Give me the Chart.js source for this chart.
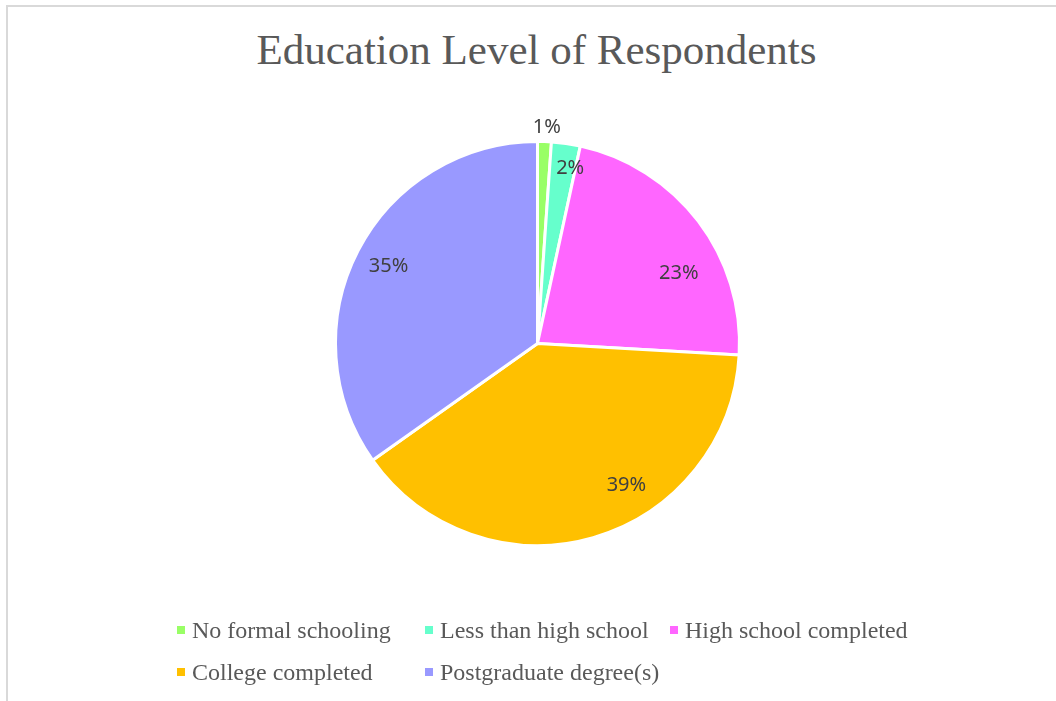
<!DOCTYPE html>
<html>
<head>
<meta charset="utf-8">
<script src="https://cdn.jsdelivr.net/npm/chart.js@4"></script>
<style>
  html, body { margin: 0; padding: 0; background: #fff; }
  #wrap { position: relative; width: 1056px; height: 701px; overflow: hidden; }
  #frame { position: absolute; left: 6px; top: 5px; width: 1100px; height: 800px;
           border-left: 2px solid #d9d9d9; border-top: 2px solid #d9d9d9; }
  #title { position: absolute; left: 0; width: 1073px; top: 25px; text-align: center;
           font-family: "Liberation Serif", "DejaVu Serif", serif; font-size: 43px; color: #595959; }
  #legend { position: absolute; left: 177px; top: 616px; font-family: "Liberation Serif", serif;
            font-size: 24px; color: #595959; display: grid;
            grid-template-columns: 248px 245px auto; row-gap: 14px; }
  .item { display: flex; align-items: center; white-space: nowrap; height: 28px; }
  .box { width: 8px; height: 8px; margin-right: 7px; }
  canvas { position: absolute; left: 0; top: 0; }
</style>
</head>
<body>
<div id="wrap">
  <div id="frame"></div>
  <div id="title">Education Level of Respondents</div>
  <canvas id="pie" width="1056" height="701"></canvas>
  <div id="legend"></div>
</div>
<script>
// ==========================================
// 1. DATA
// ==========================================
const categories = [
  'No formal schooling',
  'Less than high school',
  'High school completed',
  'College completed',
  'Postgraduate degree(s)'
];
const shares = [1.1, 2.3, 22.5, 39.3, 34.8];
const shareLabels = ['1%', '2%', '23%', '39%', '35%'];

const sliceColors = ['#99ff66', '#66ffcc', '#ff66ff', '#ffc000', '#9999ff'];

// label placement (fraction of radius, angle shift in degrees from slice middle)
const labelPlacement = [
  { r: 1.07, shift: 0.5 },
  { r: 0.88, shift: 2.5 },
  { r: 0.78, shift: 11 },
  { r: 0.83, shift: -16 },
  { r: 0.83, shift: 0 }
];

// ==========================================
// 2. SLICE LABELS (drawn on top of arcs)
// ==========================================
const sliceLabelPlugin = {
  id: 'sliceLabels',
  afterDatasetsDraw(chart) {
    const ctx = chart.ctx;
    const arcs = chart.getDatasetMeta(0).data;
    ctx.save();
    ctx.font = '20px "Noto Sans", "Open Sans", sans-serif';
    ctx.fillStyle = '#404040';
    ctx.textAlign = 'center';
    ctx.textBaseline = 'middle';
    arcs.forEach((arc, i) => {
      const p = labelPlacement[i];
      const mid = (arc.startAngle + arc.endAngle) / 2 + p.shift * Math.PI / 180;
      const r = arc.outerRadius * p.r;
      ctx.fillText(shareLabels[i], arc.x + Math.cos(mid) * r, arc.y + Math.sin(mid) * r);
    });
    ctx.restore();
  }
};

// ==========================================
// 3. CHART
// ==========================================
new Chart(document.getElementById('pie'), {
  type: 'pie',
  data: {
    labels: categories,
    datasets: [{
      data: shares,
      backgroundColor: sliceColors,
      borderColor: '#ffffff',
      borderWidth: 3
    }]
  },
  options: {
    responsive: false,
    animation: false,
    layout: { padding: { left: 334, right: 315, top: 140, bottom: 154 } },
    plugins: {
      legend: { display: false },
      tooltip: { enabled: false }
    }
  },
  plugins: [sliceLabelPlugin]
});

// HTML legend, laid out in Excel-like columns
const legendEl = document.getElementById('legend');
categories.forEach((label, i) => {
  const item = document.createElement('div');
  item.className = 'item';
  item.innerHTML = `<span class="box" style="background:${sliceColors[i]}"></span>${label}`;
  legendEl.appendChild(item);
});
</script>
</body>
</html>
